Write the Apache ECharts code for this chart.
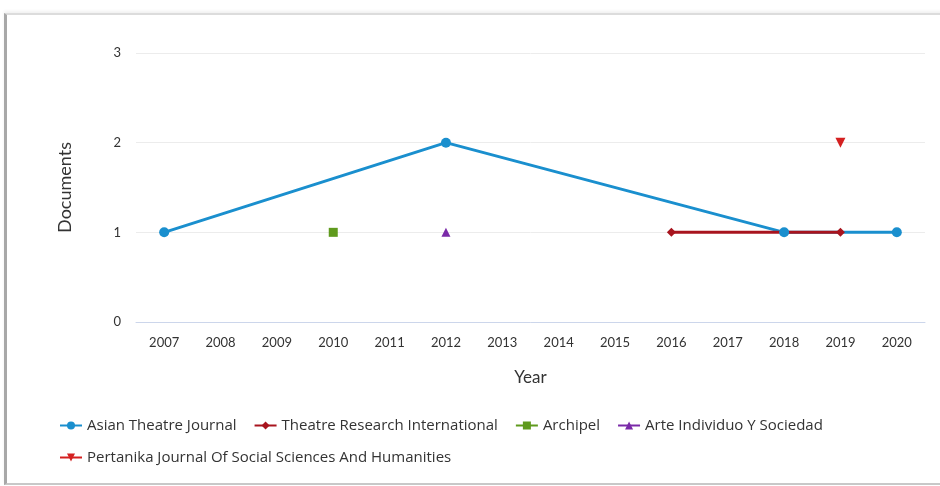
<!DOCTYPE html>
<html>
<head>
<meta charset="utf-8">
<script src="https://cdn.jsdelivr.net/npm/echarts@6/dist/echarts.min.js"></script>
<style>
  html, body { margin: 0; padding: 0; background: #fff; }
  #frame {
    position: absolute; left: 4px; top: 13px; width: 940px; height: 468px;
    border-left: 3px solid #a8a8a8; border-top: 2px solid #dcdcdc; border-bottom: 2px solid #c8c8c8;
    box-shadow: 0 -2px 3px rgba(0,0,0,0.06);
  }
  #chart { position: absolute; left: 0; top: 0; width: 940px; height: 486px; }
</style>
</head>
<body>
<div id="frame"></div>
<div id="chart"></div>
<script>
// Year categories on x-axis
const years = ['2007', '2008', '2009', '2010', '2011', '2012', '2013', '2014', '2015', '2016', '2017', '2018', '2019', '2020'];
const yTicks = [0, 1, 2, 3];

// Documents per source (null = no documents that year)
const asianTheatre = [1, null, null, null, null, 2, null, null, null, null, null, 1, null, 1];
const theatreResearch = [null, null, null, null, null, null, null, null, null, 1, null, null, 1, null];
const archipel = [null, null, null, 1, null, null, null, null, null, null, null, null, null, null];
const arteIndividuo = [null, null, null, null, null, 1, null, null, null, null, null, null, null, null];
const pertanika = [null, null, null, null, null, null, null, null, null, null, null, null, 2, null];

const chart = echarts.init(document.getElementById('chart'));
const font = 'Lato, "Open Sans", sans-serif';

const mk = (name, data, color, symbol, size, rotate) => ({
  name: name,
  type: 'line',
  data: data,
  connectNulls: true,
  symbol: symbol,
  symbolSize: size,
  symbolRotate: rotate || 0,
  showAllSymbol: true,
  color: color,
  lineStyle: { width: 3, color: color },
  itemStyle: { color: color },
  animation: false,
});

chart.setOption({
  backgroundColor: 'transparent',
  textStyle: { fontFamily: font },
  grid: { left: 136, right: 15, top: 53, bottom: 164 },
  legend: {
    left: 54,
    top: 413,
    width: 860,
    itemWidth: 22,
    itemHeight: 10,
    itemGap: 17,
    textStyle: { fontFamily: '"Open Sans", sans-serif', fontSize: 15, color: '#333' },
  },
  xAxis: {
    type: 'category',
    data: years,
    boundaryGap: true,
    name: 'Year',
    nameLocation: 'middle',
    nameGap: 47,
    nameTextStyle: { fontFamily: font, fontSize: 17, color: '#333' },
    axisLine: { lineStyle: { color: '#ccd6eb', width: 1 } },
    axisTick: { show: false },
    axisLabel: { fontFamily: font, fontSize: 13, color: '#333', margin: 14 },
  },
  yAxis: {
    type: 'value',
    min: yTicks[0],
    max: yTicks[yTicks.length - 1],
    interval: 1,
    name: 'Documents',
    nameLocation: 'middle',
    nameGap: 62,
    nameTextStyle: { fontFamily: font, fontSize: 18, color: '#333' },
    axisLine: { show: false },
    axisTick: { show: false },
    splitLine: { lineStyle: { color: '#ececec' } },
    axisLabel: { fontFamily: font, fontSize: 13, color: '#333', margin: 15 },
  },
  series: [
    mk('Asian Theatre Journal', asianTheatre, '#1a8fce', 'circle', 10),
    mk('Theatre Research International', theatreResearch, '#a8141e', 'diamond', 9),
    mk('Archipel', archipel, '#5f9a1d', 'rect', 9),
    mk('Arte Individuo Y Sociedad', arteIndividuo, '#7a2aa8', 'triangle', 9),
    mk('Pertanika Journal Of Social Sciences And Humanities', pertanika, '#d42020', 'triangle', 10, 180),
  ],
});
</script>
</body>
</html>
